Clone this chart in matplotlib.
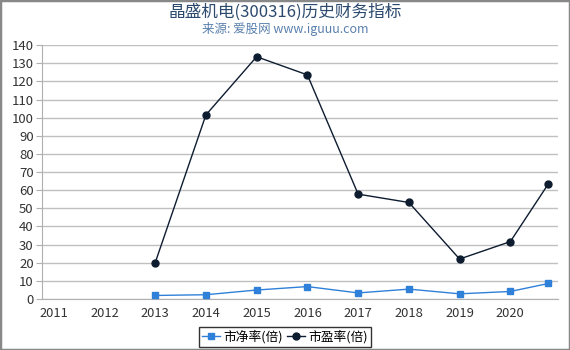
import matplotlib
matplotlib.use("Agg")
import matplotlib.pyplot as plt
from matplotlib.patches import Rectangle

plt.rcParams['font.family'] = ['Noto Sans CJK SC', 'DejaVu Sans']

years = [2011, 2012, 2013, 2014, 2015, 2016, 2017, 2018, 2019, 2020]
x_pts = [2013, 2014, 2015, 2016, 2017, 2018, 2019, 2020, 2020.75]
pb = [1.9, 2.3, 4.9, 6.8, 3.3, 5.4, 2.8, 4.1, 8.5]
pe = [19.9, 101.5, 133.6, 123.6, 57.8, 53.2, 22.0, 31.6, 63.5]
yticks = list(range(0, 141, 10))

fig = plt.figure(figsize=(5.7, 3.5), dpi=100)
ax = fig.add_axes([0.0737, 0.146, 0.9053, 0.725])

ax.plot(x_pts, pb, color='#2f80d8', marker='s', markersize=5, linewidth=1.0,
        label='市净率(倍)', zorder=3)
ax.plot(x_pts, pe, color='#0e1c30', marker='o', markersize=5, linewidth=1.0,
        label='市盈率(倍)', zorder=3)

ax.set_xlim(2010.77, 2020.94)
ax.set_ylim(0, 140)
ax.set_xticks(years)
ax.set_xticklabels([str(y) for y in years])
ax.set_yticks(yticks)
ax.grid(axis='y', color='#c0c0c0', linewidth=1.0)
ax.set_axisbelow(True)
for s in ['top', 'right']:
    ax.spines[s].set_visible(False)
ax.spines['left'].set_color('#b0b0b0')
ax.spines['bottom'].set_color('#b0b0b0')
ax.tick_params(axis='y', length=4, color='#b0b0b0', labelsize=9.5, labelcolor='#333333', pad=2)
ax.tick_params(axis='x', length=0, labelsize=9.3, labelcolor='#333333', pad=6)

fig.text(0.5, 0.966, '晶盛机电(300316)历史财务指标', ha='center', va='center',
         fontsize=12, color='#2b4a6e')
fig.text(0.5, 0.918, '来源: 爱股网 www.iguuu.com', ha='center', va='center',
         fontsize=9, color='#5a80ad')

leg = fig.legend(loc='center', bbox_to_anchor=(0.5, 0.037), ncol=2, fontsize=9.2,
                 frameon=True, fancybox=False, edgecolor='black', handlelength=1.4,
                 handletextpad=0.3, columnspacing=0.3, borderpad=0.25, borderaxespad=0)
leg.get_frame().set_linewidth(1.0)

fig.patches.append(Rectangle((0, 0), 1, 1, transform=fig.transFigure, fill=False,
                             edgecolor='#888888', linewidth=2.5))

fig.savefig('out.png', dpi=100)
